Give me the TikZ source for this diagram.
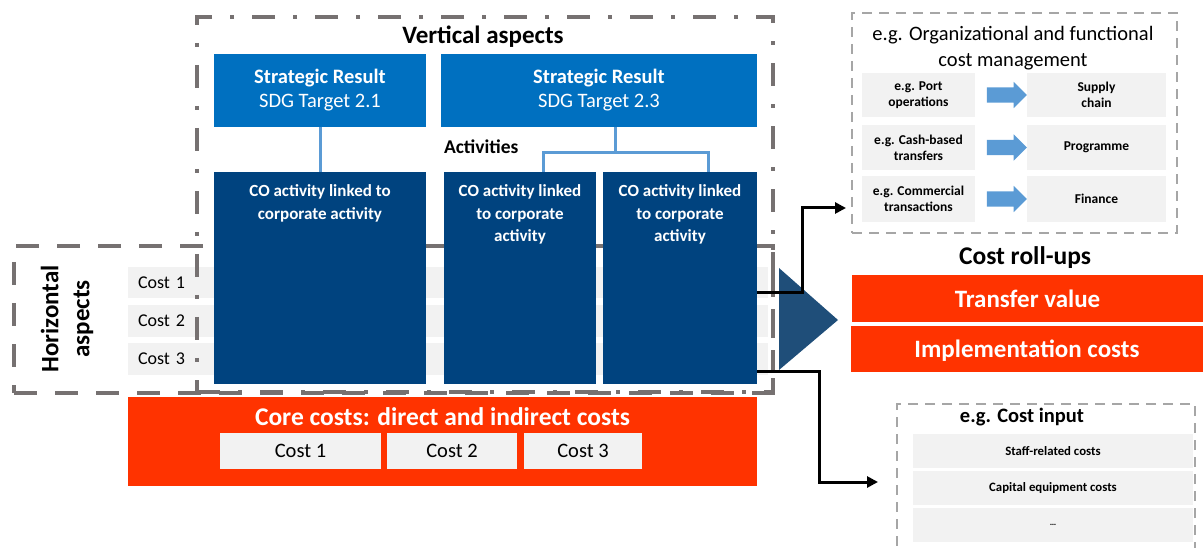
\documentclass[tikz,border=0pt]{standalone}
\usepackage{fontspec}
\setmainfont{Carlito}
\usetikzlibrary{calc,arrows.meta,shapes.arrows}
\definecolor{srblue}{HTML}{0070C0}
\definecolor{coblue}{HTML}{00437F}
\definecolor{triblue}{HTML}{1F4E79}
\definecolor{orng}{HTML}{FF3300}
\definecolor{bandgray}{HTML}{F2F2F2}
\definecolor{dgray}{HTML}{767171}
\definecolor{lgray}{HTML}{A6A6A6}
\definecolor{linkblue}{HTML}{5B9BD5}
\newcommand{\fsz}[2]{\fontsize{#1}{#2}\selectfont}
\begin{document}
\begin{tikzpicture}[x=1pt,y=-1pt,
  every node/.style={inner sep=0pt, outer sep=0pt},
  band/.style={fill=bandgray, minimum width=640pt, inner xsep=10pt, text width=620pt, align=left, font=\fsz{18}{22}},
  hframe/.style={draw=dgray, line width=4pt, dash pattern=on 23pt off 18pt},
  vframe/.style={draw=dgray, line width=4pt, dash pattern=on 23pt off 18pt on 4pt off 18pt},
  lframe/.style={draw=lgray, line width=2.5pt, dash pattern=on 10pt off 7pt},
  srbox/.style={fill=srblue, text=white, minimum height=73pt, align=center, font=\fsz{20.5}{24}},
  cobox/.style={fill=coblue, minimum height=212pt},
  cotext/.style={anchor=north, text=white, align=center, font=\bfseries\fsz{17}{22.5}},
  link/.style={draw=linkblue, line width=3pt},
  obox/.style={fill=orng, text=white, text depth=0pt, font=\bfseries\fsz{25}{30}},
  costcell/.style={fill=bandgray, minimum height=36pt, font=\fsz{20.5}{24}},
  cell/.style={fill=bandgray, align=center, font=\bfseries\fsz{13.5}{16}},
  blk/.style={single arrow, fill=linkblue, minimum height=40pt, minimum width=26pt, single arrow head extend=5.5pt, inner xsep=0pt, inner ysep=7.5pt},
  conn/.style={draw=black, line width=3pt, -{Triangle[length=11pt,width=11pt]}},
  incell/.style={fill=bandgray, minimum width=280pt, minimum height=34pt, font=\bfseries\fsz{12.8}{15}}
]
\useasboundingbox (0,0) rectangle (1203,548);

% horizontal bands
\node[band, minimum height=31pt] (b1) at (448,282.5) {Cost 1};
\node[band, minimum height=32pt] (b2) at (448,321) {Cost 2};
\node[band, minimum height=32pt] (b3) at (448,359) {Cost 3};

% frames
\node[hframe, minimum width=759pt, minimum height=147pt] (hbox) at (393.5,319.5) {};
\node[vframe, minimum width=576pt, minimum height=375pt] (vbox) at (485,204.5) {};

\node[rotate=90, font=\bfseries\fsz{25}{31}, align=center] (htitle) at (67,319) {Horizontal\\aspects};
\node[font=\bfseries\fsz{25}{30}] (vtitle) at (483,37) {Vertical aspects};

% strategic results
\node[srbox, minimum width=212pt] (sr1) at (320,90.5) {\textbf{Strategic Result}\\SDG Target 2.1};
\node[srbox, minimum width=316pt] (sr2) at (599,90.5) {\textbf{Strategic Result}\\SDG Target 2.3};

% CO activities
\node[cobox, minimum width=212pt] (co1) at (320,278) {};
\node[cobox, minimum width=152pt] (co2) at (520,278) {};
\node[cobox, minimum width=154pt] (co3) at (680,278) {};
\node[cotext] (t1) at ($(co1.north)+(0,13)$) {CO activity linked to\\corporate activity};
\node[cotext] (t2) at ($(co2.north)+(0,13)$) {CO activity linked\\to corporate\\activity};
\node[cotext] (t3) at ($(co3.north)+(0,13)$) {CO activity linked\\to corporate\\activity};

\node[anchor=west, font=\bfseries\fsz{19.5}{23}] (act) at (444,147) {Activities};

% links
\draw[link] (sr1.south) -- (co1.north);
\draw[link] ($(sr2.south)+(16,0)$) -- ($(sr2.south)+(16,26)$);
\draw[link] ($(co2.north)+(23,0)$) |- ($(sr2.south)+(16,26)$) -| ($(co3.north)+(28,0)$);

% roll-up triangle
\fill[triblue] (779,268) -- (838,320) -- (779,370) -- cycle;

% core costs
\node[fill=orng, minimum width=629pt, minimum height=89pt] (core) at (442.5,441.5) {};
\node[text=white, font=\bfseries\fsz{25.5}{30}] (coretitle) at (442.5,417) {Core costs: direct and indirect costs};
\node[costcell, minimum width=161pt] (c1) at (300.5,451) {Cost 1};
\node[costcell, minimum width=130pt] (c2) at (452,451) {Cost 2};
\node[costcell, minimum width=118pt] (c3) at (583,451) {Cost 3};

% cost roll-ups
\node[font=\bfseries\fsz{25.5}{30}] (rtitle) at (1025,258) {Cost roll-ups};
\node[obox, minimum width=351pt, minimum height=47pt] (tv) at (1027.5,298.5) {Transfer value};
\node[obox, minimum width=352pt, minimum height=46pt] (ic) at (1027,349) {Implementation costs};

% organizational box
\node[lframe, minimum width=325pt, minimum height=220pt] (org) at (1014.5,123) {};
\node[font=\fsz{20.5}{26}, align=center] (orgtitle) at (1013,48) {e.g. Organizational and functional\\cost management};
\node[cell, minimum width=113pt, minimum height=44pt] (l1) at (918.5,95) {e.g. Port\\operations};
\node[cell, minimum width=139pt, minimum height=44pt] (r1) at (1096.5,95) {Supply\\chain};
\node[cell, minimum width=113pt, minimum height=45pt] (l2) at (918.5,147.5) {e.g. Cash-based\\transfers};
\node[cell, minimum width=139pt, minimum height=45pt] (r2) at (1096.5,147.5) {Programme};
\node[cell, minimum width=113pt, minimum height=46pt] (l3) at (918.5,199) {e.g. Commercial\\transactions};
\node[cell, minimum width=139pt, minimum height=46pt] (r3) at (1096.5,199) {Finance};
\node[blk] (a1) at (1003,95) {};
\node[blk] (a2) at (1003,147.5) {};
\node[blk] (a3) at (1003,199) {};

% cost input box
\node[lframe, minimum width=298pt, minimum height=156pt] (cin) at (1046,482) {};
\node[font=\bfseries\fsz{20.5}{24}] (cintitle) at (1022,417) {e.g. Cost input};
\node[incell] (i1) at (1053,451) {Staff-related costs};
\node[incell] (i2) at (1053,488) {Capital equipment costs};
\node[incell] (i3) at (1053,525) {\fsz{9}{10}\ldots};

% connectors
\draw[conn, shorten >=6pt] ($(co3.east)+(0,15)$) -- ++(45,0) |- ($(org.west)+(0,85)$);
\draw[conn, shorten >=19pt] ($(co3.east)+(0,93)$) -- ++(62,0) |- (cin.west);
\end{tikzpicture}
\end{document}
